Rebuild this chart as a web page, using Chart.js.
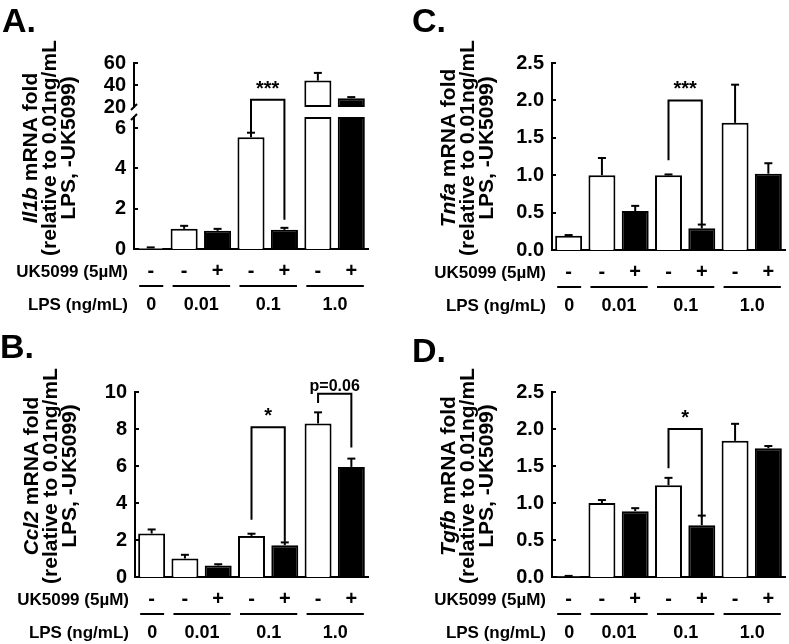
<!DOCTYPE html>
<html>
<head>
<meta charset="utf-8">
<script src="https://cdn.jsdelivr.net/npm/chart.js@4.4.1/dist/chart.umd.min.js"></script>
<style>
  body { margin: 0; background: #fff; }
  #fig { position: relative; width: 789px; height: 644px; background: #fff; }
  #fig canvas { position: absolute; }
</style>
</head>
<body>
<div id="fig">
  <canvas id="cA" width="395" height="320" style="left:0;top:0"></canvas>
  <canvas id="cAtop" width="395" height="320" style="left:0;top:0"></canvas>
  <canvas id="cC" width="394" height="320" style="left:395px;top:0"></canvas>
  <canvas id="cB" width="395" height="324" style="left:0;top:320px"></canvas>
  <canvas id="cD" width="394" height="324" style="left:395px;top:320px"></canvas>
</div>
<script>
"use strict";

const FONT = '"Liberation Sans", Arial, sans-serif';

// bars: UK5099 sign under each bar, LPS dose groups
const uk5099 = ['-', '-', '+', '-', '+', '-', '+'];
const lpsDoses = ['0', '0.01', '0.1', '1.0'];
const lpsBars = [[0], [1, 2], [3, 4], [5, 6]];

// A. Il1b (broken axis)
const il1bMean = [0.05, 1.0, 0.9, 5.55, 0.95, 44, 28];
const il1bSem = [0.03, 0.15, 0.1, 0.22, 0.1, 7, 1];
const il1bTicksLow = [0, 2, 4, 6];
const il1bTicksHigh = [20, 40, 60];
const il1bLowMax = 6.55;
const il1bHighMin = 20;

// B. Ccl2
const ccl2Mean = [2.35, 1.0, 0.62, 2.22, 1.72, 8.3, 5.95];
const ccl2Sem = [0.22, 0.2, 0.07, 0.12, 0.15, 0.6, 0.45];
const ccl2Ticks = [0, 2, 4, 6, 8, 10];

// C. Tnfa
const tnfaMean = [0.19, 1.0, 0.52, 1.0, 0.29, 1.70, 1.02];
const tnfaSem = [0.01, 0.23, 0.07, 0.01, 0.05, 0.51, 0.14];
const tnfaTicks = [0, 0.5, 1, 1.5, 2, 2.5];

// D. Tgfb
const tgfbMean = [0.01, 1.0, 0.89, 1.24, 0.70, 1.84, 1.74];
const tgfbSem = [0.005, 0.04, 0.04, 0.10, 0.13, 0.23, 0.03];
const tgfbTicks = [0, 0.5, 1, 1.5, 2, 2.5];

// significance: [left bar, right bar, top, left leg end, right leg end, label]
const il1bSig = [[3, 4, 7.4, 5.8, 1.45, '***']];
const ccl2Sig = [[3, 4, 8.1, 3.1, 1.9, '*'], [5, 6, 9.9, 9.4, 7.0, 'p=0.06']];
const tnfaSig = [[3, 4, 2.0, 1.2, 0.34, '***']];
const tgfbSig = [[3, 4, 2.0, 1.47, 0.8, '*']];

function line(ctx, x1, y1, x2, y2) {
  ctx.beginPath();
  ctx.moveTo(x1, y1);
  ctx.lineTo(x2, y2);
  ctx.stroke();
}

function errorBars(chart, mean, sem, show) {
  const ctx = chart.ctx, y = chart.scales.y, meta = chart.getDatasetMeta(0);
  ctx.save();
  ctx.strokeStyle = '#000';
  ctx.lineWidth = 2;
  meta.data.forEach((bar, i) => {
    if (!show(mean[i])) return;
    const yb = y.getPixelForValue(mean[i]);
    const yt = y.getPixelForValue(mean[i] + sem[i]);
    line(ctx, bar.x, yb, bar.x, yt);
    line(ctx, bar.x - 4, yt, bar.x + 4, yt);
  });
  ctx.restore();
}

function brackets(chart, sig) {
  const ctx = chart.ctx, y = chart.scales.y, meta = chart.getDatasetMeta(0);
  ctx.save();
  ctx.strokeStyle = '#000';
  ctx.fillStyle = '#000';
  ctx.lineWidth = 2;
  sig.forEach(([a, b, top, l, r, label]) => {
    const xa = meta.data[a].x, xb = meta.data[b].x, yt = y.getPixelForValue(top);
    ctx.beginPath();
    ctx.moveTo(xa, y.getPixelForValue(l));
    ctx.lineTo(xa, yt);
    ctx.lineTo(xb, yt);
    ctx.lineTo(xb, y.getPixelForValue(r));
    ctx.stroke();
    const isP = label[0] === 'p';
    ctx.font = 'bold ' + (isP ? 16 : 20) + 'px ' + FONT;
    ctx.textAlign = 'center';
    ctx.textBaseline = 'alphabetic';
    ctx.fillText(label, (xa + xb) / 2, yt - (isP ? 3 : 5));
  });
  ctx.restore();
}

function innerTicks(chart, ticks) {
  const ctx = chart.ctx, y = chart.scales.y, x0 = chart.chartArea.left;
  ctx.save();
  ctx.strokeStyle = '#000';
  ctx.lineWidth = 2;
  ticks.forEach(v => {
    const py = Math.round(y.getPixelForValue(v));
    line(ctx, x0, py, x0 + 4, py);
  });
  ctx.restore();
}

function breakMark(chart, py) {
  const ctx = chart.ctx, x0 = chart.chartArea.left;
  ctx.save();
  ctx.strokeStyle = '#000';
  ctx.lineWidth = 2;
  line(ctx, x0 - 3, py + 3, x0 + 3, py - 3);
  ctx.restore();
}

function yTitle(ctx, gene, axisX, cy) {
  const lines = [[[gene, true], [' mRNA fold', false]],
                 [['(relative to 0.01ng/mL', false]],
                 [['LPS, -UK5099)', false]]];
  const offs = [-97, -78, -59];
  ctx.save();
  ctx.fillStyle = '#000';
  ctx.textAlign = 'left';
  ctx.textBaseline = 'alphabetic';
  lines.forEach((parts, k) => {
    ctx.save();
    ctx.translate(axisX + offs[k], cy);
    ctx.rotate(-Math.PI / 2);
    const fonts = parts.map(p => (p[1] ? 'italic ' : '') + 'bold 21px ' + FONT);
    let w = 0;
    parts.forEach((p, j) => { ctx.font = fonts[j]; w += ctx.measureText(p[0]).width; });
    let x = -w / 2;
    parts.forEach((p, j) => {
      ctx.font = fonts[j];
      ctx.fillText(p[0], x, 0);
      x += ctx.measureText(p[0]).width;
    });
    ctx.restore();
  });
  ctx.restore();
}

function rows(chart) {
  const ctx = chart.ctx, a = chart.chartArea, meta = chart.getDatasetMeta(0);
  ctx.save();
  ctx.fillStyle = '#000';
  ctx.strokeStyle = '#000';
  ctx.lineWidth = 2;
  ctx.font = 'bold 17px ' + FONT;
  ctx.textAlign = 'right';
  ctx.textBaseline = 'middle';
  ctx.fillText('UK5099 (5\u00b5M)', a.left - 6, a.bottom + 23);
  ctx.fillText('LPS (ng/mL)', a.left - 6, a.bottom + 56);
  ctx.font = 'bold 18px ' + FONT;
  ctx.textAlign = 'center';
  lpsBars.forEach((idx, g) => {
    const first = meta.data[idx[0]], last = meta.data[idx[idx.length - 1]];
    const x1 = first.x - first.width / 2 + 2, x2 = last.x + last.width / 2 - 1;
    line(ctx, x1, a.bottom + 37, x2, a.bottom + 37);
    ctx.fillText(lpsDoses[g], (x1 + x2) / 2, a.bottom + 56);
  });
  ctx.restore();
}

function letter(ctx, text, x, y) {
  ctx.save();
  ctx.fillStyle = '#000';
  ctx.font = 'bold 34px ' + FONT;
  ctx.textAlign = 'left';
  ctx.textBaseline = 'alphabetic';
  ctx.fillText(text, x, y);
  ctx.restore();
}

function barChart(id, o) {
  const canvas = document.getElementById(id);
  const W = canvas.width, H = canvas.height;
  const axisLine = { display: true, color: '#000', width: 2 };
  const xScale = {
    display: o.showX,
    grid: { display: false, drawTicks: false },
    border: axisLine,
    ticks: { color: '#000', font: { family: FONT, size: 20, weight: 'bold' }, padding: 10, maxRotation: 0, autoSkip: false }
  };
  if (o.showX) xScale.afterFit = s => { s.height = H - o.bottom; };
  return new Chart(canvas, {
    type: 'bar',
    data: {
      labels: uk5099,
      datasets: [{
        data: o.data,
        backgroundColor: uk5099.map(s => s === '+' ? '#000' : '#fff'),
        borderColor: '#000',
        borderWidth: 2,
        borderSkipped: o.skip,
        barPercentage: 0.81,
        categoryPercentage: 1
      }]
    },
    options: {
      responsive: false,
      animation: false,
      devicePixelRatio: 1,
      layout: { padding: { left: 0, right: W - o.right, top: o.top, bottom: o.showX ? 0 : H - o.bottom } },
      plugins: { legend: { display: false }, tooltip: { enabled: false } },
      scales: {
        x: xScale,
        y: {
          min: o.min,
          max: o.max,
          grid: { display: false, drawTicks: false },
          border: axisLine,
          ticks: { color: '#000', font: { family: FONT, size: 20, weight: 'bold' }, padding: 8, autoSkip: false, callback: o.fmt },
          afterFit: s => { s.width = o.axisX; },
          afterBuildTicks: s => { s.ticks = o.ticks.map(v => ({ value: v })); }
        }
      }
    },
    plugins: [o.plugin]
  });
}

const int = v => String(v);
const dec = v => v.toFixed(1);

// A lower segment
barChart('cA', {
  data: il1bMean.map(v => Math.min(v, il1bLowMax)), skip: 'start', showX: true,
  axisX: 134, top: 117, bottom: 249, right: 368, min: 0, max: il1bLowMax,
  ticks: il1bTicksLow, fmt: int,
  plugin: {
    id: 'pA',
    afterDatasetsDraw(chart) {
      errorBars(chart, il1bMean, il1bSem, v => v < il1bLowMax);
      brackets(chart, il1bSig);
    },
    afterDraw(chart) {
      innerTicks(chart, il1bTicksLow);
      breakMark(chart, chart.chartArea.top);
      yTitle(chart.ctx, 'Il1b', 134, 148);
      rows(chart);
      letter(chart.ctx, 'A.', 2, 32);
    }
  }
});

// A upper segment
barChart('cAtop', {
  data: il1bMean.map(v => v > il1bHighMin ? [il1bHighMin, v] : null), skip: false, showX: false,
  axisX: 134, top: 63, bottom: 107, right: 368, min: il1bHighMin, max: 60,
  ticks: il1bTicksHigh, fmt: int,
  plugin: {
    id: 'pAtop',
    afterDatasetsDraw(chart) {
      errorBars(chart, il1bMean, il1bSem, v => v > il1bHighMin);
    },
    afterDraw(chart) {
      innerTicks(chart, [40, 60]);
      breakMark(chart, chart.chartArea.bottom);
    }
  }
});

// C
barChart('cC', {
  data: tnfaMean, skip: 'start', showX: true,
  axisX: 157, top: 63, bottom: 250, right: 390, min: 0, max: 2.5,
  ticks: tnfaTicks, fmt: dec,
  plugin: {
    id: 'pC',
    afterDatasetsDraw(chart) {
      errorBars(chart, tnfaMean, tnfaSem, () => true);
      brackets(chart, tnfaSig);
    },
    afterDraw(chart) {
      innerTicks(chart, tnfaTicks);
      yTitle(chart.ctx, 'Tnfa', 157, 148);
      rows(chart);
      letter(chart.ctx, 'C.', 17, 32);
    }
  }
});

// B
barChart('cB', {
  data: ccl2Mean, skip: 'start', showX: true,
  axisX: 135, top: 72, bottom: 257, right: 368, min: 0, max: 10,
  ticks: ccl2Ticks, fmt: int,
  plugin: {
    id: 'pB',
    afterDatasetsDraw(chart) {
      errorBars(chart, ccl2Mean, ccl2Sem, () => true);
      brackets(chart, ccl2Sig);
    },
    afterDraw(chart) {
      innerTicks(chart, ccl2Ticks);
      yTitle(chart.ctx, 'Ccl2', 135, 156);
      rows(chart);
      letter(chart.ctx, 'B.', 0, 38);
    }
  }
});

// D
barChart('cD', {
  data: tgfbMean, skip: 'start', showX: true,
  axisX: 157, top: 72, bottom: 257, right: 390, min: 0, max: 2.5,
  ticks: tgfbTicks, fmt: dec,
  plugin: {
    id: 'pD',
    afterDatasetsDraw(chart) {
      errorBars(chart, tgfbMean, tgfbSem, () => true);
      brackets(chart, tgfbSig);
    },
    afterDraw(chart) {
      innerTicks(chart, tgfbTicks);
      yTitle(chart.ctx, 'Tgfb', 157, 156);
      rows(chart);
      letter(chart.ctx, 'D.', 17, 42);
    }
  }
});
</script>
</body>
</html>
